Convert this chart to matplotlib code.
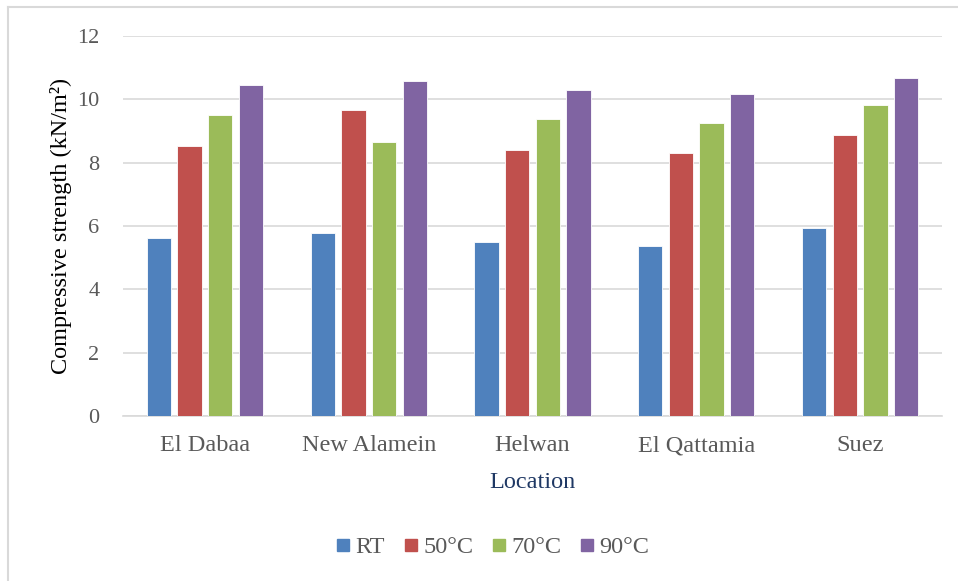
import matplotlib
matplotlib.use("Agg")
import matplotlib.pyplot as plt
from matplotlib.lines import Line2D
import numpy as np

plt.rcParams['font.family'] = ['Liberation Serif', 'DejaVu Serif']

locations = ["El Dabaa", "New Alamein", "Helwan", "El Qattamia", "Suez"]
series_names = ["RT", "50°C", "70°C", "90°C"]
rt = [5.61, 5.78, 5.49, 5.37, 5.94]
t50 = [8.54, 9.67, 8.41, 8.29, 8.86]
t70 = [9.50, 8.65, 9.39, 9.26, 9.83]
t90 = [10.45, 10.57, 10.31, 10.18, 10.68]
y_ticks = [0, 2, 4, 6, 8, 10, 12]

colors = ["#4F81BD", "#C0504D", "#9BBB59", "#8064A2"]
series = [rt, t50, t70, t90]

fig = plt.figure(figsize=(9.58, 5.81), dpi=100)
ax = fig.add_axes([0.1284, 0.284, 0.8549, 0.654])

x = np.arange(len(locations))
step = 0.187
width = 0.148
for i, (vals, c, name) in enumerate(zip(series, colors, series_names)):
    ax.bar(x + (i - 1.5) * step, vals, width=width, color=c,
           edgecolor="white", linewidth=0.6, label=name, zorder=3)

ax.set_xlim(-0.5, len(locations) - 0.5)
ax.set_ylim(0, 12)
ax.set_yticks(y_ticks)
ax.set_xticks(x)
ax.set_xticklabels(locations)
ax.grid(axis="y", color="#D9D9D9", linewidth=1.2, zorder=0)
ax.set_axisbelow(True)
for s in ["top", "right", "left"]:
    ax.spines[s].set_visible(False)
ax.spines["bottom"].set_color("#D9D9D9")
ax.spines["bottom"].set_linewidth(1.2)
ax.tick_params(axis="both", length=0, labelcolor="#595959")
ax.tick_params(axis="y", pad=17, labelsize=16)
ax.tick_params(axis="x", pad=14, labelsize=17.5)

ax.set_ylabel("Compressive strength (kN/m²)", fontsize=17.5, color="black", labelpad=4)
ax.set_xlabel("Location", fontsize=17.5, color="#1F3864", labelpad=11)

handles = [Line2D([0], [0], marker="s", linestyle="none", markersize=8,
                  markerfacecolor=c, markeredgecolor=c) for c in colors]
fig.legend(handles, series_names, loc="center", bbox_to_anchor=(493 / 958, 1 - 547 / 581),
           ncol=4, frameon=False, fontsize=17.5, labelcolor="#595959",
           handlelength=0.55, handletextpad=0.22, columnspacing=0.8)

# chart area border (left and top edges)
fig.add_artist(Line2D([8 / 958, 8 / 958], [0, 1 - 7 / 581], transform=fig.transFigure,
                      color="#D9D9D9", linewidth=1.5))
fig.add_artist(Line2D([8 / 958, 1], [1 - 7 / 581, 1 - 7 / 581], transform=fig.transFigure,
                      color="#D9D9D9", linewidth=1.5))

fig.savefig("out.png", dpi=100, facecolor="white")
